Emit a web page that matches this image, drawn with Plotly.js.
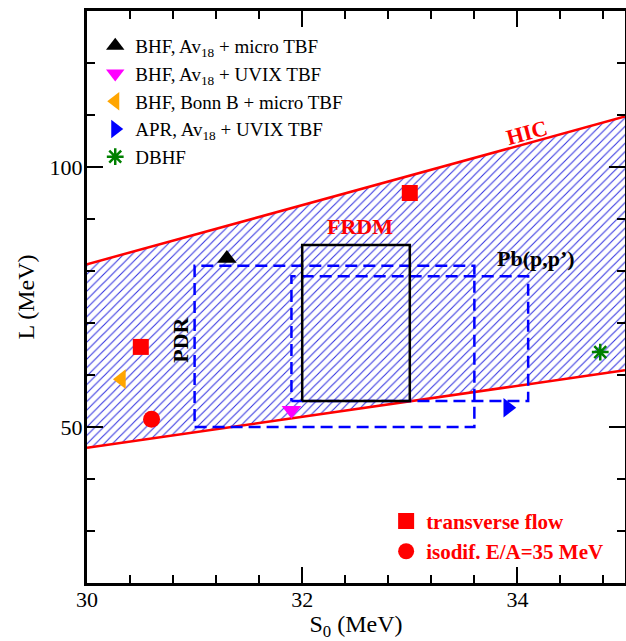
<!DOCTYPE html>
<html><head><meta charset="utf-8">
<script src="https://cdn.plot.ly/plotly-3.0.1.min.js"></script>
<style>html,body{margin:0;padding:0;background:#fff}#chart{width:626px;height:641px}</style>
</head><body><div id="chart"></div>
<script>
// ---- data ----
const bandS0 = [30, 35];
const hicUpperL = [81.3, 109.7];
const hicLowerL = [46.0, 60.9];
const frdmS0 = [32.0, 33.0], frdmL = [55, 85];
const pbS0 = [31.9, 34.1], pbL = [55, 79];
const pdrS0 = [31.0, 33.6], pdrL = [50, 81];
const bhfMicroS0 = [31.3], bhfMicroL = [82.4];
const bhfUvixS0 = [31.9], bhfUvixL = [53.2];
const bhfBonnS0 = [30.32], bhfBonnL = [59.2];
const aprS0 = [33.91], aprL = [53.7];
const dbhfS0 = [34.77], dbhfL = [64.4];
const flowS0 = [30.5, 33.0], flowL = [65.4, 95.0];
const isoS0 = [30.6], isoL = [51.5];
const labels = {hic:'HIC', frdm:'FRDM', pb:'Pb(p,p’)', pdr:'PDR'};

const FONT = 'Liberation Serif, Times New Roman, serif';
function rect(xs, ys){ return {x:[xs[0],xs[1],xs[1],xs[0],xs[0]], y:[ys[0],ys[0],ys[1],ys[1],ys[0]]}; }

const band = {
  x: bandS0.concat(bandS0.slice().reverse()).concat([bandS0[0]]),
  y: hicUpperL.concat(hicLowerL.slice().reverse()).concat([hicUpperL[0]]),
  mode:'lines', fill:'toself', line:{width:0, color:'rgba(0,0,0,0)'},
  fillcolor:'white',
  fillpattern:{shape:'/', size:6, solidity:0.18, fgcolor:'#3535e0', bgcolor:'white'},
  showlegend:false, hoverinfo:'skip'
};
const upper = {x:bandS0, y:hicUpperL, mode:'lines', line:{color:'#ff0000', width:2.5}, showlegend:false};
const lower = {x:bandS0, y:hicLowerL, mode:'lines', line:{color:'#ff0000', width:2.5}, showlegend:false};
const dash = '12px,6px';
const pdr = Object.assign(rect(pdrS0, pdrL), {mode:'lines', line:{color:'#0000ff', width:2.5, dash:dash}, showlegend:false});
const pb = Object.assign(rect(pbS0, pbL), {mode:'lines', line:{color:'#0000ff', width:2.5, dash:dash}, showlegend:false});
const frdm = Object.assign(rect(frdmS0, frdmL), {mode:'lines', line:{color:'#000000', width:2.5}, showlegend:false});

function pts(x, y, name, symbol, color, size, legend, extra){
  const t = {x:x, y:y, name:name, mode:'markers', legend:legend,
    marker:{symbol:symbol, color:color, size:size, line:{width:0}}};
  if (extra) Object.assign(t.marker, extra);
  return t;
}
const traces = [band, upper, lower, pdr, pb, frdm,
  pts(bhfMicroS0, bhfMicroL, 'BHF, Av<sub>18</sub> + micro TBF', 'triangle-up', '#000000', 17, 'legend'),
  pts(bhfUvixS0, bhfUvixL, 'BHF, Av<sub>18</sub> + UVIX TBF', 'triangle-down', '#ff00ff', 17, 'legend'),
  pts(bhfBonnS0, bhfBonnL, 'BHF, Bonn B + micro TBF', 'triangle-left', '#ffa500', 17, 'legend'),
  pts(aprS0, aprL, 'APR, Av<sub>18</sub> + UVIX TBF', 'triangle-right', '#0000ff', 17, 'legend'),
  pts(dbhfS0, dbhfL, 'DBHF', 'asterisk-open', '#008000', 14, 'legend', {line:{width:2.5, color:'#008000'}}),
  pts(flowS0, flowL, 'transverse flow', 'square', '#ff0000', 16, 'legend2'),
  pts(isoS0, isoL, 'isodif. E/A=35 MeV', 'circle', '#ff0000', 17, 'legend2')
];

const axisCommon = {showgrid:false, zeroline:false, showline:true, linewidth:3, linecolor:'#000',
  mirror:'ticks', ticks:'inside', ticklen:16, tickwidth:2, tickcolor:'#000',
  tickfont:{family:FONT, size:22, color:'#000'}};

const layout = {
  width:626, height:641,
  margin:{l:87, r:1, t:11, b:58},
  paper_bgcolor:'#fff', plot_bgcolor:'#fff',
  font:{family:FONT, color:'#000'},
  xaxis:Object.assign({}, axisCommon, {range:[30,35], tick0:30, dtick:2, ticklabelstandoff:-5,
    minor:{dtick:0.4, ticklen:8, tickwidth:2, tickcolor:'#000', ticks:'inside'},
    title:{text:'S<sub>0</sub> (MeV)', font:{family:FONT, size:24}, standoff:15}}),
  yaxis:Object.assign({}, axisCommon, {range:[20,130], tick0:0, dtick:50, ticklabelstandoff:-3,
    minor:{dtick:10, ticklen:8, tickwidth:2, tickcolor:'#000', ticks:'inside'},
    title:{text:'L (MeV)', font:{family:FONT, size:24}, standoff:9}}),
  legend:{x:0.0153, y:0.972, xanchor:'left', yanchor:'top', bgcolor:'rgba(0,0,0,0)',
    font:{family:FONT, size:19, color:'#000'}, tracegroupgap:0},
  legend2:{x:0.556, y:0.1437, xanchor:'left', yanchor:'top', bgcolor:'rgba(0,0,0,0)',
    font:{family:FONT, size:21, color:'#ff0000', weight:'bold'}},
  annotations:[
    {x:34.09, y:106.7, text:labels.hic, showarrow:false, textangle:-15,
      font:{family:FONT, size:22, color:'#ff0000', weight:'bold'}},
    {x:32.54, y:88.5, text:labels.frdm, showarrow:false,
      font:{family:FONT, size:22, color:'#ff0000', weight:'bold'}},
    {x:34.17, y:82.4, text:labels.pb, showarrow:false,
      font:{family:FONT, size:22, color:'#000', weight:'bold'}},
    {x:30.87, y:66.7, text:labels.pdr, showarrow:false, textangle:-90,
      font:{family:FONT, size:22, color:'#000', weight:'bold'}}
  ]
};
Plotly.newPlot('chart', traces, layout, {displayModeBar:false, staticPlot:true});
</script></body></html>
